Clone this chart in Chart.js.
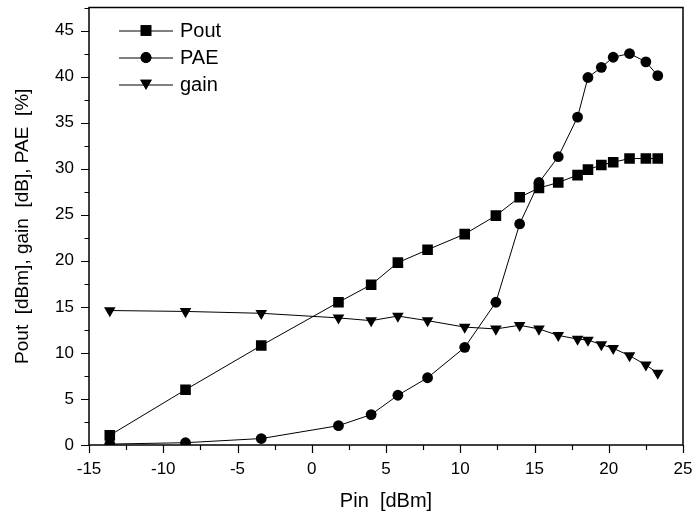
<!DOCTYPE html>
<html>
<head>
<meta charset="utf-8">
<script src="https://cdn.jsdelivr.net/npm/chart.js@4.4.1/dist/chart.umd.min.js"></script>
<style>
html,body{margin:0;padding:0;background:#fff;}
#wrap{width:696px;height:519px;}
</style>
</head>
<body>
<div id="wrap"><canvas id="c" width="696" height="519"></canvas></div>
<script>
const pin = [-13.6, -8.5, -3.4, 1.8, 4.0, 5.8, 7.8, 10.3, 12.4, 14.0, 15.3, 16.6, 17.9, 18.6, 19.5, 20.3, 21.4, 22.5, 23.3];
const pout = [1.05, 6.0, 10.8, 15.5, 17.4, 19.8, 21.2, 22.9, 24.9, 26.9, 27.9, 28.5, 29.3, 29.9, 30.4, 30.7, 31.1, 31.1, 31.1];
const pae = [0.1, 0.25, 0.7, 2.1, 3.3, 5.4, 7.3, 10.6, 15.5, 24.0, 28.5, 31.3, 35.6, 39.9, 41.0, 42.1, 42.5, 41.6, 40.1];
const gain = [14.6, 14.5, 14.3, 13.8, 13.5, 14.0, 13.5, 12.8, 12.6, 13.0, 12.6, 11.9, 11.5, 11.4, 10.9, 10.5, 9.7, 8.7, 7.8];
const seriesNames = ['Pout', 'PAE', 'gain'];
const xTicks = [-15, -10, -5, 0, 5, 10, 15, 20, 25];
const yTicks = [0, 5, 10, 15, 20, 25, 30, 35, 40, 45];

const FONT = "'Liberation Sans', Arial, sans-serif";
const toXY = (ys) => ys.map((v, i) => ({x: pin[i], y: v}));

const styles = [
  {pointStyle: 'rect', pointRadius: 7.5, rotation: 0},
  {pointStyle: 'circle', pointRadius: 5.4, rotation: 0},
  {pointStyle: 'triangle', pointRadius: 6.7, rotation: 180}
];
const dataArr = [pout, pae, gain];

const datasets = seriesNames.map((n, i) => ({
  label: n,
  data: toXY(dataArr[i]),
  borderColor: '#000',
  backgroundColor: '#000',
  borderWidth: 1,
  pointStyle: styles[i].pointStyle,
  pointRadius: styles[i].pointRadius,
  pointRotation: styles[i].rotation,
  pointBorderWidth: 0,
  pointBackgroundColor: '#000',
  pointHoverRadius: styles[i].pointRadius,
  tension: 0
}));

const framePlugin = {
  id: 'frame',
  afterDatasetsDraw(chart) {
    const {ctx, chartArea: a, scales} = chart;
    ctx.save();
    ctx.strokeStyle = '#000';
    ctx.lineWidth = 1.5;
    ctx.strokeRect(a.left, a.top, a.right - a.left, a.bottom - a.top);
    ctx.lineWidth = 1.2;
    ctx.beginPath();
    for (let v = -15; v <= 25.001; v += 2.5) {
      const px = Math.round(scales.x.getPixelForValue(v)) + 0.5;
      const major = Math.abs(v % 5) < 1e-6;
      ctx.moveTo(px, a.bottom);
      ctx.lineTo(px, a.bottom + (major ? 8 : 5));
    }
    for (let v = 0; v <= 47.5; v += 2.5) {
      const py = Math.round(scales.y.getPixelForValue(v)) + 0.5;
      const major = Math.abs(v % 5) < 1e-6;
      ctx.moveTo(a.left, py);
      ctx.lineTo(a.left - (major ? 8 : 4.5), py);
    }
    ctx.stroke();

    // legend
    const lx0 = a.left + 30, lx1 = a.left + 84, mx = a.left + 57;
    const rows = [a.top + 23, a.top + 50, a.top + 77];
    ctx.font = "20px " + FONT;
    ctx.textBaseline = 'middle';
    ctx.fillStyle = '#000';
    rows.forEach((ry, i) => {
      ctx.lineWidth = 1;
      ctx.beginPath();
      ctx.moveTo(lx0, ry + 0.5);
      ctx.lineTo(lx1, ry + 0.5);
      ctx.stroke();
      Chart.helpers.drawPoint(ctx, {pointStyle: styles[i].pointStyle, rotation: styles[i].rotation, radius: styles[i].pointRadius, borderWidth: 0}, mx, ry + (i === 2 ? -1.5 : 0));
      ctx.fill();
      ctx.fillText(seriesNames[i], lx1 + 7, ry + 1);
    });
    ctx.restore();
  }
};

new Chart(document.getElementById('c'), {
  type: 'line',
  data: {datasets},
  options: {
    responsive: false,
    animation: false,
    devicePixelRatio: 1,
    layout: {padding: {left: 0, right: 13, top: 7, bottom: 0}},
    plugins: {legend: {display: false}, tooltip: {enabled: false}},
    scales: {
      x: {
        type: 'linear', min: -15, max: 25,
        grid: {display: false, drawTicks: false},
        border: {display: false},
        afterBuildTicks: (s) => { s.ticks = xTicks.map(v => ({value: v})); },
        afterFit: (s) => { s.height = 74; s.paddingLeft = 0; s.paddingRight = 0; },
        ticks: {color: '#000', font: {family: FONT, size: 17}, padding: 14, maxRotation: 0, autoSkip: false},
        title: {display: true, text: 'Pin  [dBm]', color: '#000', font: {family: FONT, size: 20}, padding: {top: 0, bottom: 6}}
      },
      y: {
        type: 'linear', min: 0, max: 47.5,
        grid: {display: false, drawTicks: false},
        border: {display: false},
        afterBuildTicks: (s) => { s.ticks = yTicks.map(v => ({value: v})); },
        afterFit: (s) => { s.width = 89; s.paddingTop = 0; s.paddingBottom = 0; },
        ticks: {color: '#000', font: {family: FONT, size: 17}, padding: 15, autoSkip: false},
        title: {display: true, text: 'Pout  [dBm], gain  [dB], PAE  [%]', color: '#000', font: {family: FONT, size: 19}, padding: {top: 11, bottom: 0}}
      }
    }
  },
  plugins: [framePlugin]
});
</script>
</body>
</html>
